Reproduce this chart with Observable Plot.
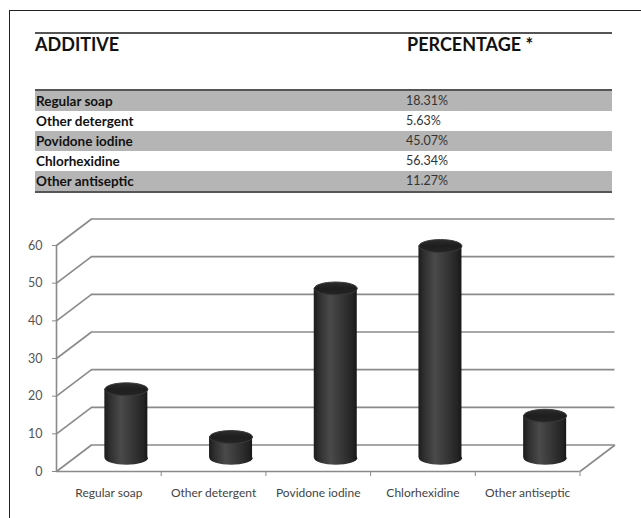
<!DOCTYPE html>
<html>
<head>
<meta charset="utf-8">
<script src="https://cdn.jsdelivr.net/npm/d3@7"></script>
<script src="https://cdn.jsdelivr.net/npm/@observablehq/plot@0.6"></script>
<style>
  html, body { margin: 0; padding: 0; background: #fff; }
  body { width: 641px; height: 518px; position: relative; overflow: hidden; font-family: Lato, "Open Sans", sans-serif; }
  .frame { position: absolute; left: 9px; top: 10px; right: -4px; bottom: -4px; border-left: 1.5px solid #222; border-top: 1.5px solid #222; }
  .head { position: absolute; left: 35px; top: 32px; width: 577px; border-top: 2px solid #555; height: 20px; }
  .head span { position: absolute; top: 1px; font-weight: 700; font-size: 18px; color: #111; line-height: 18px; }
  table.tbl { position: absolute; left: 35px; top: 89px; width: 577px; border-collapse: collapse; border-top: 2.5px solid #555; border-bottom: 2.5px solid #555; }
  table.tbl td { height: 20px; padding: 0; font-size: 12.5px; line-height: 20px; vertical-align: middle; }
  table.tbl td.name { width: 370px; padding-left: 1px; font-weight: 700; font-size: 13.5px; color: #111; }
  table.tbl td.pct { color: #333; }
  table.tbl tr:nth-child(odd) td { background: #b5b5b5; }
  #chart { position: absolute; left: 0; top: 200px; }
</style>
</head>
<body>
<div class="frame"></div>
<div class="head"><span style="left:0">ADDITIVE</span><span style="left:372px">PERCENTAGE *</span></div>
<table class="tbl" id="tbl"></table>
<div id="chart"></div>
<script>
// Additives and the share of respondents using each one
const categories = ["Regular soap", "Other detergent", "Povidone iodine", "Chlorhexidine", "Other antiseptic"];
const values = [18.31, 5.63, 45.07, 56.34, 11.27];
const yTicks = [0, 10, 20, 30, 40, 50, 60];

// Table above the chart
const tbl = d3.select("#tbl");
const rows = tbl.selectAll("tr").data(categories).join("tr");
rows.append("td").attr("class", "name").text(d => d);
rows.append("td").attr("class", "pct").text((d, i) => values[i].toFixed(2) + "%");

// Chart geometry (pixels)
const W = 641, H = 318;
const mLeft = 56, mRight = 61.5, mTop = 45, mBottom = 47;
const pxPerX = (W - mLeft - mRight) / categories.length;
const pxPerY = (H - mTop - mBottom) / 60;
// 3-D depth of the box, converted to data units
const depthPx = [35, 26.5];
const DX = depthPx[0] / pxPerX;
const DY = depthPx[1] / pxPerY;
const halfW = 21.5 / pxPerX;

const rowsData = categories.map((c, i) => ({c, i, v: values[i], xc: i + 0.5 + DX / 2}));

// Flattened ellipse symbol for the cylinder caps
const ellipse = {
  draw(ctx, size) {
    const rx = Math.sqrt(size / Math.PI), ry = rx * 0.3, k = 0.5523;
    ctx.moveTo(rx, 0);
    ctx.bezierCurveTo(rx, ry * k, rx * k, ry, 0, ry);
    ctx.bezierCurveTo(-rx * k, ry, -rx, ry * k, -rx, 0);
    ctx.bezierCurveTo(-rx, -ry * k, -rx * k, -ry, 0, -ry);
    ctx.bezierCurveTo(rx * k, -ry, rx, -ry * k, rx, 0);
    ctx.closePath();
  }
};

const gridColor = "#8a8a8a";

const plot = Plot.plot({
  width: W,
  height: H,
  marginLeft: mLeft,
  marginRight: mRight,
  marginTop: mTop,
  marginBottom: mBottom,
  style: {fontFamily: "Lato, 'Open Sans', sans-serif", overflow: "visible"},
  x: {domain: [0, categories.length], axis: null, label: null},
  y: {domain: [0, 60], axis: null, label: null},
  marks: [
    // back wall gridlines
    Plot.ruleY(yTicks, {y: d => d + DY, x1: DX, x2: categories.length + DX, stroke: gridColor, strokeWidth: 1.6}),
    // side wall diagonals
    Plot.link(yTicks, {x1: 0, y1: d => d, x2: DX, y2: d => d + DY, stroke: gridColor, strokeWidth: 1.6}),
    // floor right edge
    Plot.link([categories.length], {x1: d => d, y1: 0, x2: d => d + DX, y2: DY, stroke: gridColor, strokeWidth: 1.6}),
    // front axes
    Plot.ruleY([0], {x1: 0, x2: categories.length, stroke: gridColor, strokeWidth: 1.6}),
    Plot.ruleX([0], {y1: 0, y2: 60, stroke: gridColor, strokeWidth: 1.6}),
    Plot.axisY({ticks: yTicks, tickSize: 4, tickPadding: 10, stroke: gridColor, fill: "#555", fontSize: 12.5, label: null}),
    Plot.axisX({ticks: d3.range(1, categories.length + 1), tickSize: 5, tickFormat: () => "", stroke: gridColor, label: null}),
    Plot.axisX({ticks: categories.map((c, i) => i + 0.5), tickSize: 0, tickPadding: 17, fill: "#444", fontSize: 12, label: null,
      tickFormat: d => categories[Math.floor(d)]}),
    // cylinders: bottom cap, body, top cap
    Plot.dot(rowsData, {x: "xc", y: DY / 2, r: 21.5, symbol: ellipse, fill: "url(#cylBody)", stroke: "none"}),
    Plot.rect(rowsData, {x1: d => d.xc - halfW, x2: d => d.xc + halfW, y1: DY / 2, y2: d => d.v + DY / 2, fill: "url(#cylBody)", inset: 0}),
    Plot.dot(rowsData, {x: "xc", y: d => d.v + DY / 2, r: 21.5, symbol: ellipse, fill: "url(#cylTop)", stroke: "#3a3a3a", strokeWidth: 1})
  ]
});

// shading for the cylinders
const svg = d3.select(plot);
const defs = svg.insert("defs", ":first-child");
const bodyGrad = defs.append("linearGradient").attr("id", "cylBody").attr("x1", 0).attr("x2", 1).attr("y1", 0).attr("y2", 0);
[[0, "#1b1b1b"], [0.12, "#2e2e2e"], [0.38, "#4a4a4a"], [0.7, "#333"], [0.92, "#222"], [1, "#161616"]]
  .forEach(([o, c]) => bodyGrad.append("stop").attr("offset", o).attr("stop-color", c));
const capGrad = defs.append("linearGradient").attr("id", "cylTop").attr("x1", 0).attr("x2", 0).attr("y1", 0).attr("y2", 1);
[[0, "#2c2c2c"], [0.5, "#1e1e1e"], [1, "#252525"]]
  .forEach(([o, c]) => capGrad.append("stop").attr("offset", o).attr("stop-color", c));

document.getElementById("chart").appendChild(plot);
</script>
</body>
</html>
